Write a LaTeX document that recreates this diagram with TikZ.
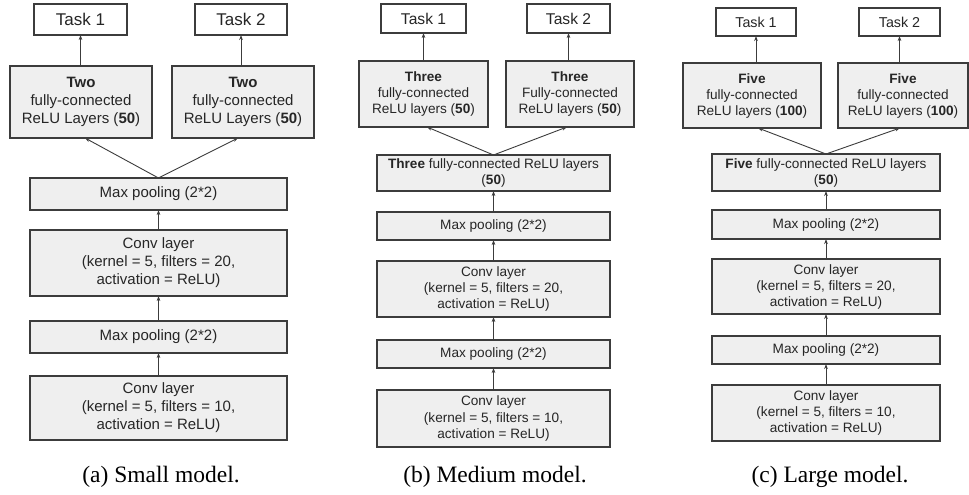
\documentclass[tikz,border=0pt]{standalone}
\usepackage{fontspec}
\setmainfont{Liberation Sans}
\newfontfamily\capfont{Liberation Serif}
\usetikzlibrary{arrows.meta}
\definecolor{boxfill}{RGB}{239,239,239}
\definecolor{edge}{RGB}{60,60,60}
\begin{document}
\begin{tikzpicture}[x=1pt,y=-1pt,
  every node/.style={inner sep=0pt, outer sep=0pt, align=center, text=black!85},
  layer/.style={draw=edge, line width=1.1pt, fill=boxfill},
  taskbox/.style={draw=edge, line width=1.1pt, fill=white},
  fa/.style={font=\fontsize{15}{18}\selectfont},
  fb/.style={font=\fontsize{13.6}{16.3}\selectfont},
  fc/.style={font=\fontsize{13.6}{16}\selectfont},
  ta/.style={font=\fontsize{17}{20}\selectfont},
  tb/.style={font=\fontsize{15.6}{18}\selectfont},
  tc/.style={font=\fontsize{14.3}{17}\selectfont},
  arr/.style={draw=edge, line width=0.9pt, -{Stealth[length=5pt,width=3.6pt]}},
  captext/.style={font=\capfont\fontsize{23.5}{26}\selectfont, text=black}
]
\useasboundingbox (0,0) rectangle (969,495);

% ---------------- Panel (a) ----------------
\node[taskbox,ta,minimum width=93,minimum height=31] (t1a) at (80.5,19.5) {Task 1};
\node[taskbox,ta,minimum width=92,minimum height=31] (t2a) at (241,19.5) {Task 2};
\node[layer,fa,minimum width=142,minimum height=72] (fla) at (81,102) {\textbf{Two}\\fully-connected\\ReLU Layers (\textbf{50})};
\node[layer,fa,minimum width=142,minimum height=72] (fra) at (243,102) {\textbf{Two}\\fully-connected\\ReLU Layers (\textbf{50})};
\node[layer,fa,minimum width=257,minimum height=32] (mp2a) at (158.5,194) {Max pooling (2*2)};
\node[layer,fa,minimum width=257,minimum height=66] (c2a) at (158.5,263) {Conv layer\\(kernel = 5, filters = 20,\\activation = ReLU)};
\node[layer,fa,minimum width=257,minimum height=32] (mp1a) at (158.5,337) {Max pooling (2*2)};
\node[layer,fa,minimum width=257,minimum height=64] (c1a) at (158.5,408) {Conv layer\\(kernel = 5, filters = 10,\\activation = ReLU)};
\node[captext] (capa) at (161,477) {(a) Small model.};

\draw[arr] (c1a) -- (mp1a);
\draw[arr] (mp1a) -- (c2a);
\draw[arr] (c2a) -- (mp2a);
\draw[arr] (mp2a.north) -- ([xshift=4]fla.south);
\draw[arr] (mp2a.north) -- ([xshift=-5]fra.south);
\draw[arr] (fla.north -| t1a.south) -- (t1a.south);
\draw[arr] (fra.north -| t2a.south) -- (t2a.south);

% ---------------- Panel (b) ----------------
\node[taskbox,tb,minimum width=85,minimum height=29] (t1b) at (423.5,18.5) {Task 1};
\node[taskbox,tb,minimum width=83,minimum height=29] (t2b) at (568.5,18.5) {Task 2};
\node[layer,fb,minimum width=129,minimum height=66] (flb) at (423.5,94) {\textbf{Three}\\fully-connected\\ReLU layers (\textbf{50})};
\node[layer,fb,minimum width=128,minimum height=66] (frb) at (570,94) {\textbf{Three}\\Fully-connected\\ReLU layers (\textbf{50})};
\node[layer,fb,minimum width=233,minimum height=36] (shb) at (493.5,173) {\textbf{Three} fully-connected ReLU layers\\(\textbf{50})};
\node[layer,fb,minimum width=233,minimum height=28] (mp2b) at (493.5,226) {Max pooling (2*2)};
\node[layer,fb,minimum width=233,minimum height=56] (c2b) at (493.5,289) {Conv layer\\(kernel = 5, filters = 20,\\activation = ReLU)};
\node[layer,fb,minimum width=233,minimum height=28] (mp1b) at (493.5,354) {Max pooling (2*2)};
\node[layer,fb,minimum width=233,minimum height=57] (c1b) at (493.5,418.5) {Conv layer\\(kernel = 5, filters = 10,\\activation = ReLU)};
\node[captext] (capb) at (495,477) {(b) Medium model.};

\draw[arr] (c1b) -- (mp1b);
\draw[arr] (mp1b) -- (c2b);
\draw[arr] (c2b) -- (mp2b);
\draw[arr] (mp2b) -- (shb);
\draw[arr] (shb.north) -- ([xshift=3.5]flb.south);
\draw[arr] (shb.north) -- ([xshift=-3]frb.south);
\draw[arr] (flb.north -| t1b.south) -- (t1b.south);
\draw[arr] (frb.north -| t2b.south) -- (t2b.south);

% ---------------- Panel (c) ----------------
\node[taskbox,tc,minimum width=80,minimum height=28] (t1c) at (756,22) {Task 1};
\node[taskbox,tc,minimum width=81,minimum height=28] (t2c) at (899.5,22) {Task 2};
\node[layer,fc,minimum width=138,minimum height=65] (flc) at (752,95.5) {\textbf{Five}\\fully-connected\\ReLU layers (\textbf{100})};
\node[layer,fc,minimum width=130,minimum height=65] (frc) at (903,95.5) {\textbf{Five}\\fully-connected\\ReLU layers (\textbf{100})};
\node[layer,fc,minimum width=228,minimum height=37] (shc) at (826,172.5) {\textbf{Five} fully-connected ReLU layers\\(\textbf{50})};
\node[layer,fc,minimum width=228,minimum height=29] (mp2c) at (826,224.5) {Max pooling (2*2)};
\node[layer,fc,minimum width=228,minimum height=55] (c2c) at (826,286.5) {Conv layer\\(kernel = 5, filters = 20,\\activation = ReLU)};
\node[layer,fc,minimum width=228,minimum height=28] (mp1c) at (826,350) {Max pooling (2*2)};
\node[layer,fc,minimum width=228,minimum height=56] (c1c) at (826,413) {Conv layer\\(kernel = 5, filters = 10,\\activation = ReLU)};
\node[captext] (capc) at (830,477) {(c) Large model.};

\draw[arr] (c1c) -- (mp1c);
\draw[arr] (mp1c) -- (c2c);
\draw[arr] (c2c) -- (mp2c);
\draw[arr] (mp2c) -- (shc);
\draw[arr] (shc.north) -- ([xshift=6]flc.south);
\draw[arr] (shc.north) -- ([xshift=-3]frc.south);
\draw[arr] (flc.north -| t1c.south) -- (t1c.south);
\draw[arr] (frc.north -| t2c.south) -- (t2c.south);
\end{tikzpicture}
\end{document}
